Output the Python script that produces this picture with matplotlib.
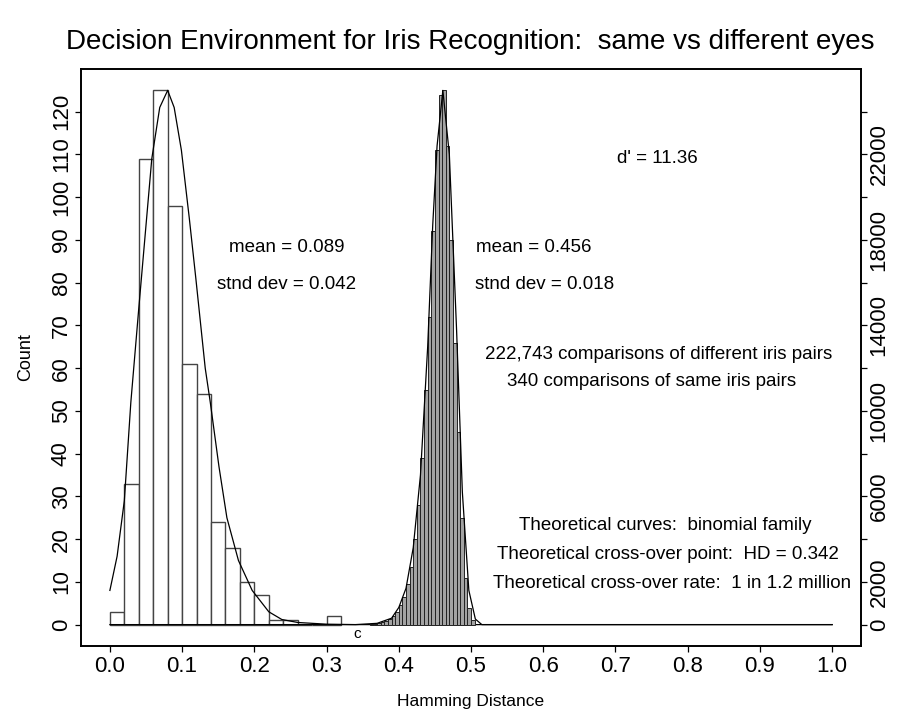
import matplotlib
matplotlib.use("Agg")
import matplotlib.pyplot as plt

plt.rcParams['font.family'] = ['Liberation Sans', 'DejaVu Sans']

# same-eye comparisons: bins of width 0.02 starting at 0.0
same_edges = [0.00, 0.02, 0.04, 0.06, 0.08, 0.10, 0.12, 0.14, 0.16, 0.18,
              0.20, 0.22, 0.24, 0.26, 0.28, 0.30, 0.32]
same_counts = [3, 33, 109, 125, 98, 61, 54, 24, 18, 10, 7, 1, 1, 0, 0, 2]

# different-eye comparisons: bins of width 0.005
diff_edges = [0.360, 0.365, 0.370, 0.375, 0.380, 0.385, 0.390, 0.395, 0.400,
              0.405, 0.410, 0.415, 0.420, 0.425, 0.430, 0.435, 0.440, 0.445,
              0.450, 0.455, 0.460, 0.465, 0.470, 0.475, 0.480, 0.485, 0.490,
              0.495, 0.500, 0.505]
diff_counts = [20, 40, 60, 100, 160, 240, 400, 600, 900, 1300, 1900, 2700,
               4000, 5600, 7800, 11000, 14400, 18400, 22200, 24800, 25000,
               22400, 18000, 13200, 9000, 5000, 2200, 800, 200]

# theoretical curves
same_curve_x = [0.000, 0.010, 0.020, 0.029, 0.040, 0.058, 0.069, 0.080, 0.089,
                0.099, 0.110, 0.119, 0.132, 0.139, 0.151, 0.162, 0.178, 0.197,
                0.220, 0.238, 0.260, 0.300, 0.340, 1.000]
same_curve_y = [8, 16, 29, 52, 74, 109, 121, 125, 121, 111, 95, 81, 60, 52, 37,
                25, 15, 8, 3, 1.2, 0.5, 0.1, 0, 0]

diff_curve_x = [0.000, 0.340, 0.370, 0.390, 0.400, 0.410, 0.420, 0.430, 0.440,
                0.447, 0.453, 0.461, 0.470, 0.480, 0.488, 0.497, 0.506, 0.515,
                1.000]
diff_curve_y = [0, 0, 60, 300, 800, 1700, 3600, 7000, 13000, 18700, 22400,
                25000, 22000, 13800, 6200, 1600, 260, 0, 0]

xticks = [0.0, 0.1, 0.2, 0.3, 0.4, 0.5, 0.6, 0.7, 0.8, 0.9, 1.0]
left_ticks = list(range(0, 130, 10))
right_ticks = list(range(0, 26000, 2000))
right_labels = ['0', '2000', '', '6000', '', '10000', '', '14000', '', '18000',
                '', '22000', '']

fig = plt.figure(figsize=(9, 7.13), dpi=100)
ax = fig.add_axes([0.09, 0.094, 0.8667, 0.8092])

w_same = [same_edges[i + 1] - same_edges[i] for i in range(len(same_counts))]
ax.bar(same_edges[:-1], same_counts, width=w_same, align='edge',
       color='white', edgecolor='#444444', linewidth=1.0, zorder=2)
ax.plot(same_curve_x, same_curve_y, color='black', linewidth=0.9, zorder=3)

ax.set_xlim(-0.04, 1.04)
ax.set_ylim(-5, 130)
ax.set_xticks(xticks)
ax.set_xticklabels(['%.1f' % t for t in xticks])
ax.set_yticks(left_ticks)
ax.set_yticklabels([str(t) for t in left_ticks], rotation=90, va='center')
ax.tick_params(axis='x', direction='out', length=4.5, width=0.9, labelsize=16, pad=3)
ax.tick_params(axis='y', direction='out', length=4.5, width=0.9, labelsize=16, pad=2)

ax2 = ax.twinx()
w_diff = [diff_edges[i + 1] - diff_edges[i] for i in range(len(diff_counts))]
ax2.bar(diff_edges[:-1], diff_counts, width=w_diff, align='edge',
        color='#a3a3a3', edgecolor='#222222', linewidth=0.7, zorder=2)
ax2.plot(diff_curve_x, diff_curve_y, color='black', linewidth=0.9, zorder=3)
ax2.set_ylim(-1000, 26000)
ax2.set_yticks(right_ticks)
ax2.set_yticklabels(right_labels, rotation=90, va='center')
ax2.tick_params(direction='out', length=4.5, width=0.9, labelsize=16, pad=1)

for a in (ax, ax2):
    for s in a.spines.values():
        s.set_linewidth(1.2)

ax.set_xlabel('Hamming Distance', fontsize=12.5, labelpad=12)
ax.set_ylabel('Count', fontsize=13, labelpad=12)

fs = 13.5
ax.text(0.758, 109, "d' = 11.36", ha='center', va='center', fontsize=fs)
ax.text(0.2445, 88.3, 'mean = 0.089', ha='center', va='center', fontsize=fs)
ax.text(0.2445, 79.6, 'stnd dev = 0.042', ha='center', va='center', fontsize=fs)
ax.text(0.587, 88.3, 'mean = 0.456', ha='center', va='center', fontsize=fs)
ax.text(0.602, 79.6, 'stnd dev = 0.018', ha='center', va='center', fontsize=fs)
ax.text(0.76, 63.3, '222,743 comparisons of different iris pairs',
        ha='center', va='center', fontsize=fs)
ax.text(0.75, 57.0, '340 comparisons of same iris pairs',
        ha='center', va='center', fontsize=fs)
ax.text(0.769, 23.3, 'Theoretical curves:  binomial family',
        ha='center', va='center', fontsize=fs)
ax.text(0.772, 16.3, 'Theoretical cross-over point:  HD = 0.342',
        ha='center', va='center', fontsize=fs)
ax.text(0.778, 9.7, 'Theoretical cross-over rate:  1 in 1.2 million',
        ha='center', va='center', fontsize=fs)
ax.text(0.342, -2.2, 'c', ha='center', va='center', fontsize=11)

fig.text(0.522, 0.941, 'Decision Environment for Iris Recognition:  same vs different eyes',
         ha='center', va='center', fontsize=20)

fig.savefig('out.png', dpi=100)
